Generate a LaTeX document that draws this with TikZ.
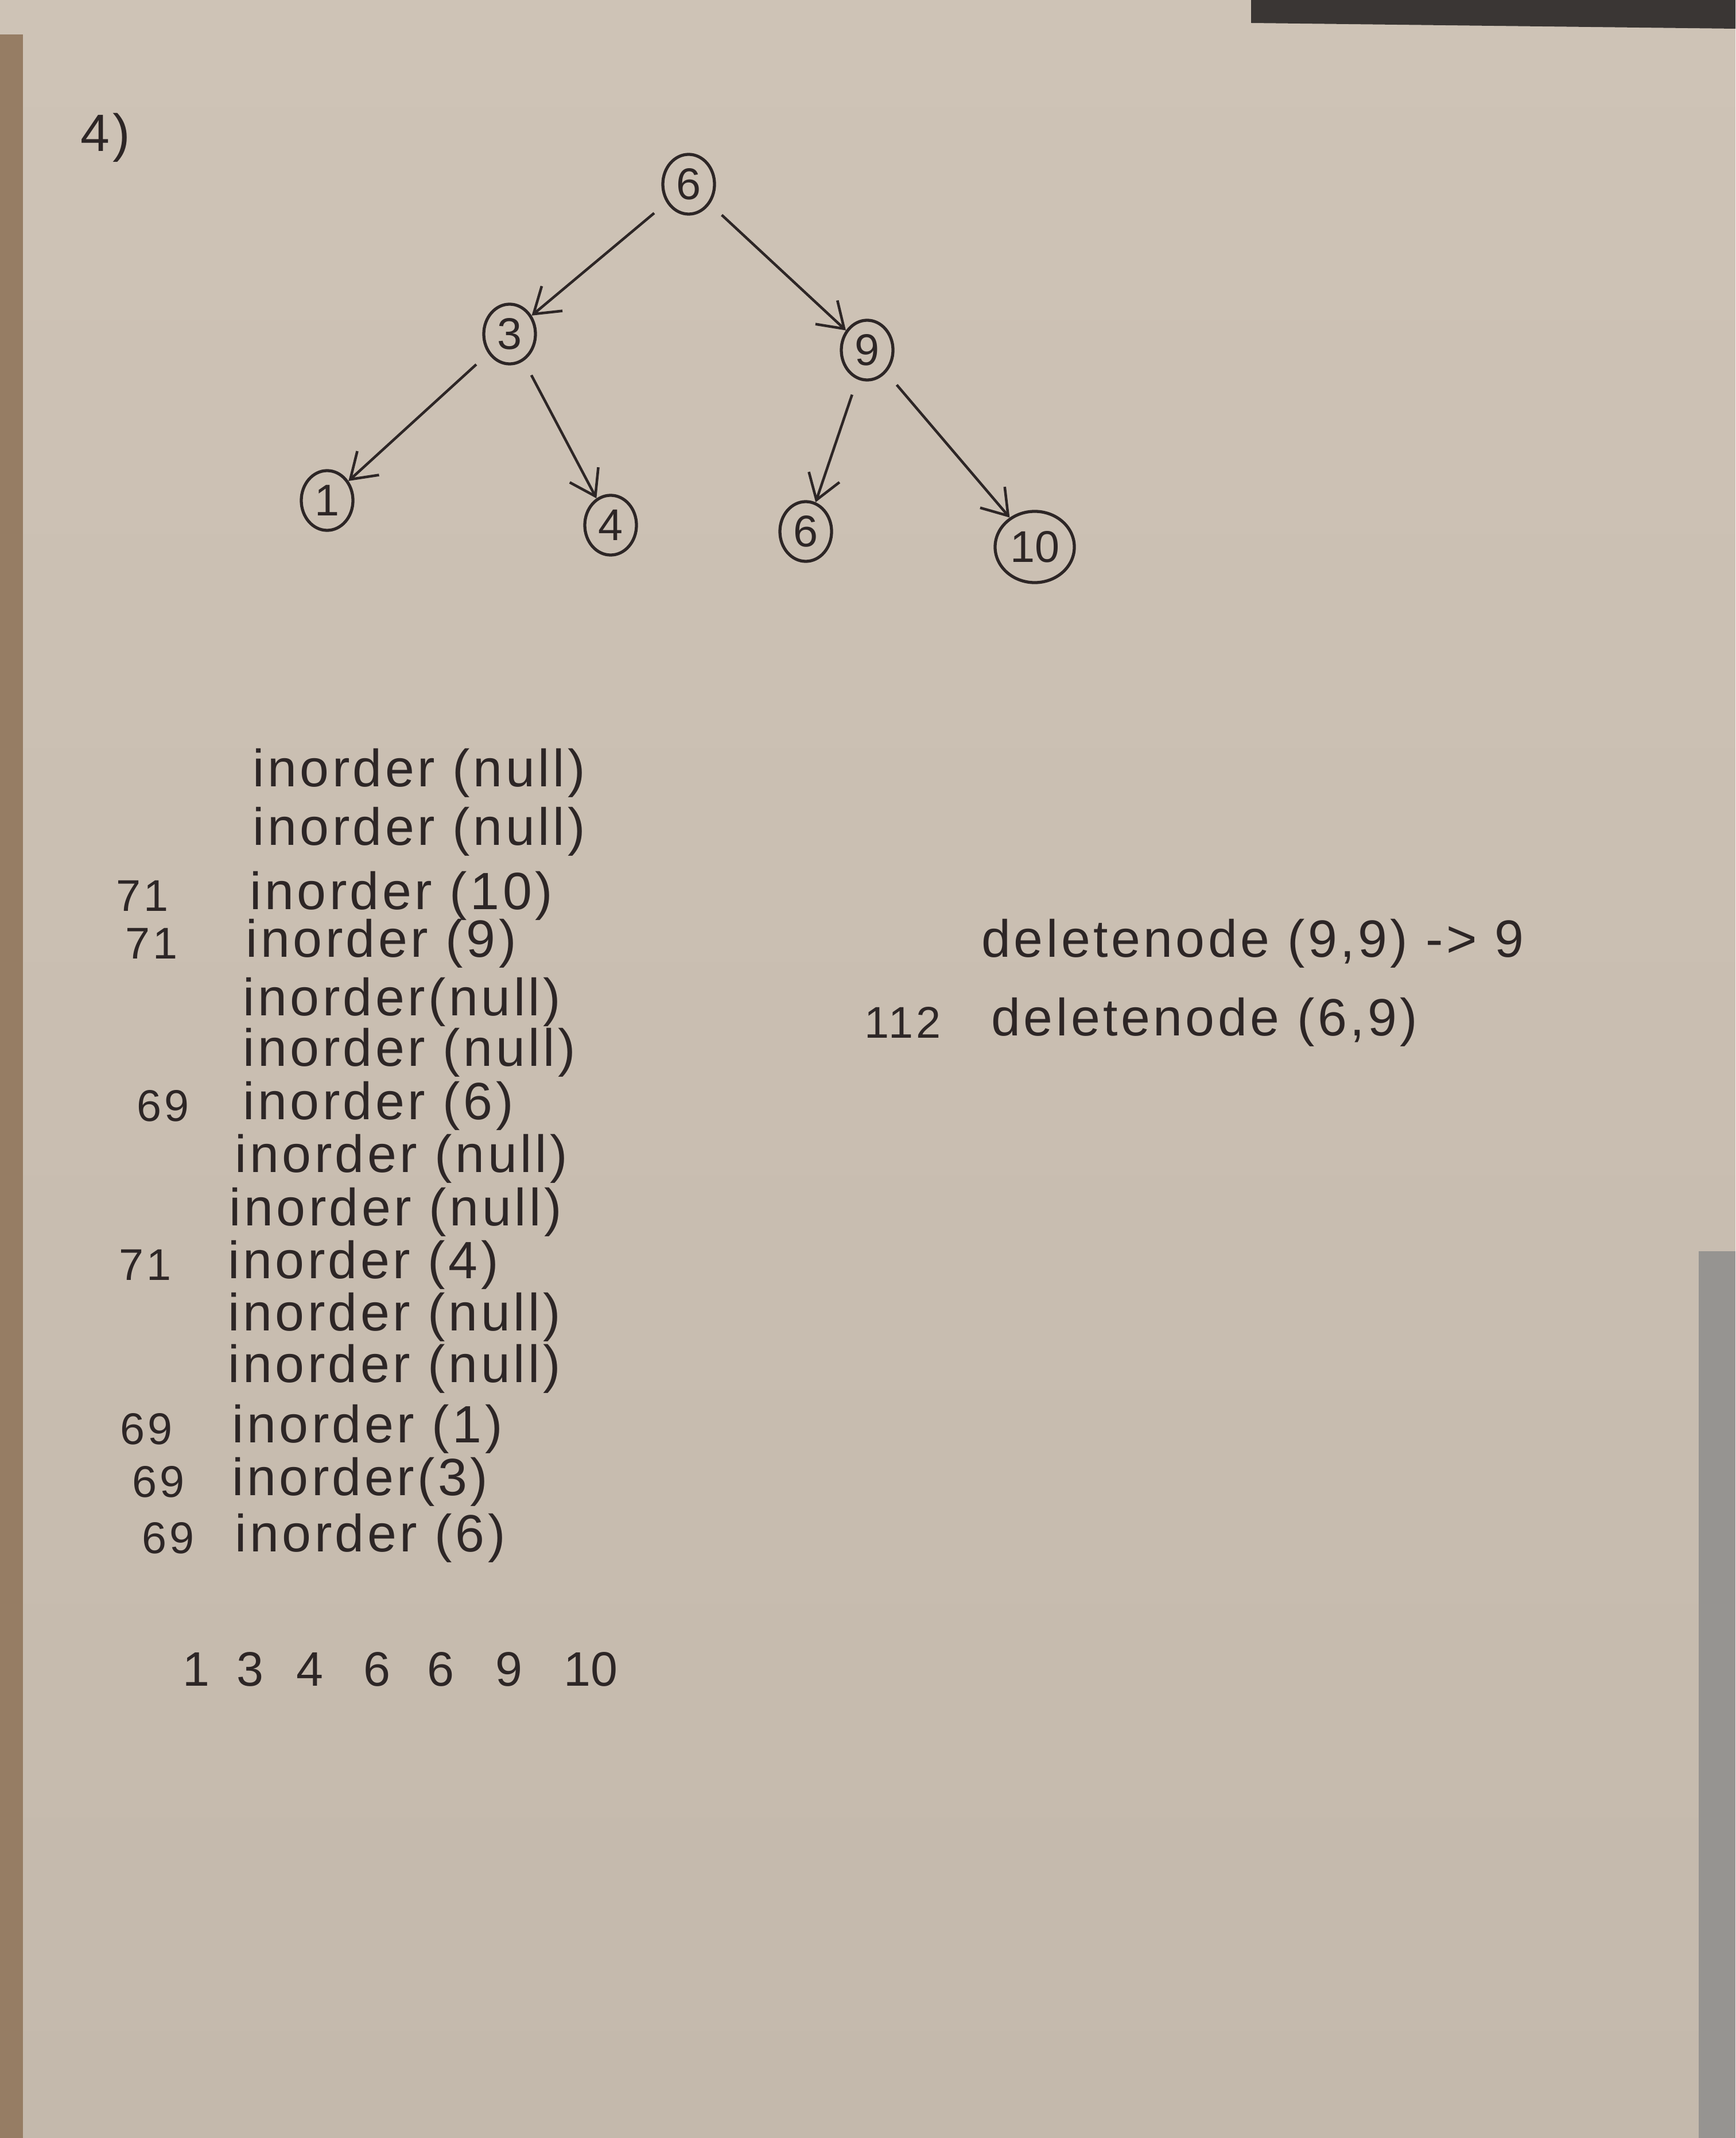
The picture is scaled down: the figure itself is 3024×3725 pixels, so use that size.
\documentclass[tikz,border=0pt]{standalone}
\usepackage{fontspec}
\setmainfont{Liberation Sans}
\usetikzlibrary{arrows.meta,shapes.geometric}
\definecolor{paper}{RGB}{206,195,182}
\definecolor{paperlow}{RGB}{196,185,172}
\definecolor{ink}{RGB}{45,38,38}
\definecolor{darkband}{RGB}{58,54,52}
\definecolor{edgebrown}{RGB}{150,125,100}
\definecolor{spiral}{RGB}{150,148,145}
\begin{document}
\begin{tikzpicture}[x=0.01cm,y=-0.01cm,
  tnode/.style={draw=ink,ellipse,line width=1.5pt,minimum width=0.9cm,minimum height=1.04cm,inner sep=0pt,text=ink,font=\fontsize{22}{22}\selectfont},
  bignode/.style={tnode,minimum width=1.38cm,minimum height=1.24cm},
  tedge/.style={draw=ink,line width=1.3pt,-{Straight Barb[length=12pt,width=16pt]},shorten <=8pt},
  hand/.style={anchor=west,text=ink,inner sep=0pt,font=\fontsize{26}{26}\selectfont\addfontfeature{LetterSpace=6}},
  num/.style={anchor=west,text=ink,inner sep=0pt,font=\fontsize{22}{22}\selectfont\addfontfeature{LetterSpace=6}},
  res/.style={anchor=west,text=ink,inner sep=0pt,font=\fontsize{24}{24}\selectfont}]
\useasboundingbox (0,0) rectangle (3024,3725);
% paper background
\shade[top color=paper,bottom color=paperlow] (0,0) rectangle (3024,3725);
\fill[darkband] (2180,0) -- (3024,0) -- (3024,50) -- (2180,40) -- cycle;
\fill[edgebrown] (0,60) rectangle (40,3725);
\fill[spiral] (2960,2180) rectangle (3024,3725);
% label
\node[hand] (q) at (140,240) {4)};
% tree
\node[tnode] (n6) at (1200,321) {6};
\node[tnode] (n3) at (888,582) {3};
\node[tnode] (n9) at (1511,610) {9};
\node[tnode] (n1) at (570,872) {1};
\node[tnode] (n4) at (1064,915) {4};
\node[tnode] (n6b) at (1404,926) {6};
\node[bignode] (n10) at (1803,953) {10};
\draw[tedge] (n6) -- (n3);
\draw[tedge] (n6) -- (n9);
\draw[tedge] (n3) -- (n1);
\draw[tedge] (n3) -- (n4);
\draw[tedge] (n9) -- (n6b);
\draw[tedge] (n9) -- (n10);
% call stack
\node[hand] (l1) at (440,1347) {inorder (null)};
\node[hand] (l2) at (440,1449) {inorder (null)};
\node[num] (a3) at (202,1561) {71};
\node[hand] (l3) at (435,1561) {inorder (10)};
\node[num] (a4) at (218,1644) {71};
\node[hand] (l4) at (428,1644) {inorder (9)};
\node[hand] (l5) at (423,1746) {inorder(null)};
\node[hand] (l6) at (423,1834) {inorder (null)};
\node[num] (a7) at (238,1927) {69};
\node[hand] (l7) at (423,1927) {inorder (6)};
\node[hand] (l8) at (409,2019) {inorder (null)};
\node[hand] (l9) at (399,2112) {inorder (null)};
\node[num] (a10) at (207,2204) {71};
\node[hand] (l10) at (397,2204) {inorder (4)};
\node[hand] (l11) at (397,2295) {inorder (null)};
\node[hand] (l12) at (397,2385) {inorder (null)};
\node[num] (a13) at (209,2490) {69};
\node[hand] (l13) at (404,2490) {inorder (1)};
\node[num] (a14) at (230,2582) {69};
\node[hand] (l14) at (404,2582) {inorder(3)};
\node[num] (a15) at (247,2680) {69};
\node[hand] (l15) at (409,2680) {inorder (6)};
% result
\node[res] (r1) at (318,2908) {1};
\node[res] (r2) at (412,2908) {3};
\node[res] (r3) at (516,2908) {4};
\node[res] (r4) at (633,2908) {6};
\node[res] (r5) at (744,2908) {6};
\node[res] (r6) at (863,2908) {9};
\node[res] (r7) at (982,2908) {10};
% delete calls
\node[hand] (d1) at (1710,1644) {deletenode (9,9) -> 9};
\node[num] (b2) at (1506,1781) {112};
\node[hand] (d2) at (1727,1781) {deletenode (6,9)};
\end{tikzpicture}
\end{document}
